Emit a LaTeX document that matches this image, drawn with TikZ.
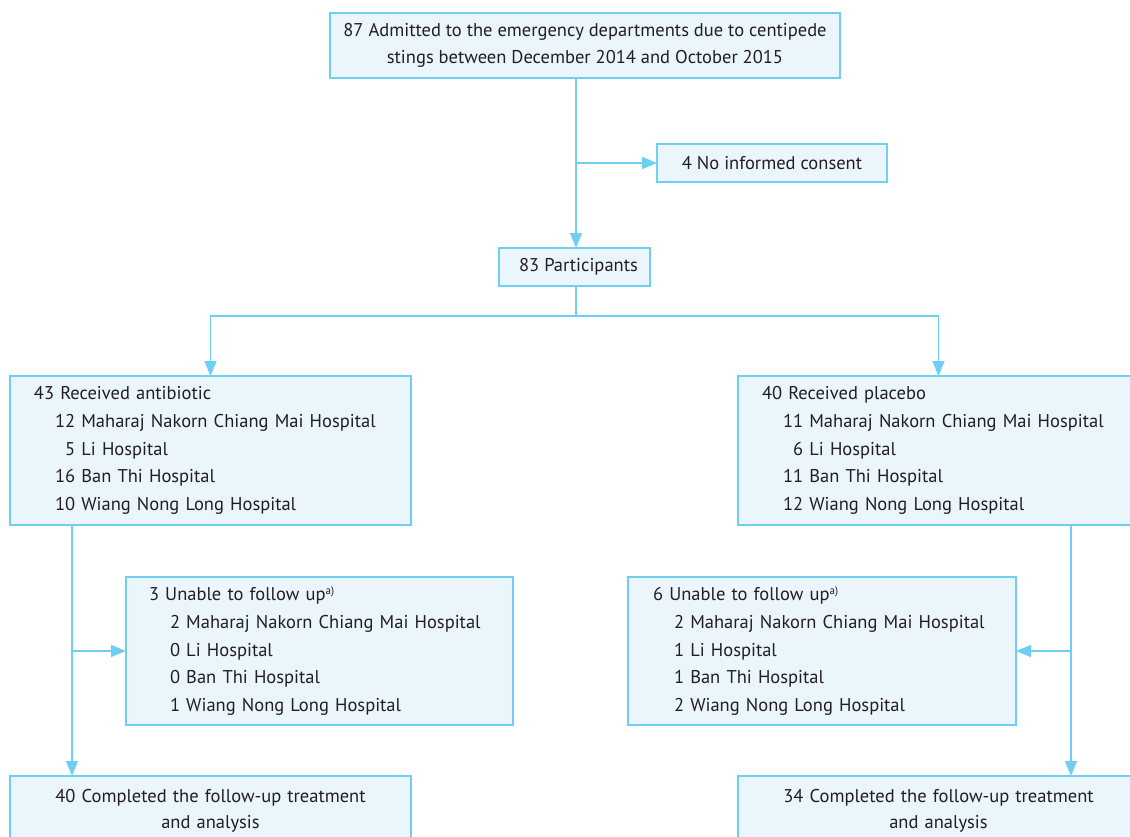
\documentclass[tikz,border=0pt]{standalone}
\usepackage{fontspec}
\setmainfont{PT Sans}
\usetikzlibrary{arrows.meta,calc}
\definecolor{lb}{HTML}{6ECFF3}
\definecolor{fb}{HTML}{EAF6FC}
\definecolor{tx}{HTML}{231F20}
\newcommand{\hsp}[2]{\hspace*{21pt}#1 #2}
\begin{document}
\begin{tikzpicture}[x=1pt,y=-1pt,
  box/.style={draw=lb, fill=fb, line width=1.5pt, text=tx,
    font=\fontsize{18.5}{27.7}\selectfont, inner ysep=0pt, outer sep=0pt},
  conn/.style={draw=lb, line width=1.5pt},
  arr/.style={conn, -{Triangle[width=12pt,length=15pt]}}]
\useasboundingbox (0,0) rectangle (1130,836);
\clip (0,0) rectangle (1130,836);
\fill[white] (0,0) rectangle (1130,836);

\node[box, anchor=north west, minimum width=510pt, minimum height=65pt, align=center, font=\fontsize{18.5}{27}\selectfont] (top) at (330,13)
  {87 Admitted to the emergency departments due to centipede\\stings between December 2014 and October 2015};
\node[box, anchor=north west, minimum width=230pt, minimum height=38pt, align=center] (noinf) at (657,144)
  {4 No informed consent};
\node[box, anchor=north west, minimum width=151pt, minimum height=38pt, align=center] (part) at (499,248)
  {\hspace*{8pt}83 Participants};

\node[box, anchor=north west, text width=353pt, inner xsep=24pt, minimum height=149pt, align=left] (ab) at (10,376)
  {43 Received antibiotic\\
   \hsp{12}{Maharaj Nakorn Chiang Mai Hospital}\\
   \hsp{\phantom{0}5}{Li Hospital}\\
   \hsp{16}{Ban Thi Hospital}\\
   \hsp{10}{Wiang Nong Long Hospital}};
\node[box, anchor=north west, text width=353pt, inner xsep=24pt, minimum height=149pt, align=left] (pl) at (738,376)
  {40 Received placebo\\
   \hsp{11}{Maharaj Nakorn Chiang Mai Hospital}\\
   \hsp{\phantom{0}6}{Li Hospital}\\
   \hsp{11}{Ban Thi Hospital}\\
   \hsp{12}{Wiang Nong Long Hospital}};

\node[box, anchor=north west, text width=341pt, inner xsep=23pt, minimum height=148pt, align=left] (un1) at (126,577)
  {3 Unable to follow up\textsuperscript{\fontsize{11}{11}\selectfont a)}\\
   \hsp{2}{Maharaj Nakorn Chiang Mai Hospital}\\
   \hsp{0}{Li Hospital}\\
   \hsp{0}{Ban Thi Hospital}\\
   \hsp{1}{Wiang Nong Long Hospital}};
\node[box, anchor=north west, text width=338pt, inner xsep=25pt, minimum height=148pt, align=left] (un2) at (628,577)
  {6 Unable to follow up\textsuperscript{\fontsize{11}{11}\selectfont a)}\\
   \hsp{2}{Maharaj Nakorn Chiang Mai Hospital}\\
   \hsp{1}{Li Hospital}\\
   \hsp{1}{Ban Thi Hospital}\\
   \hsp{2}{Wiang Nong Long Hospital}};

\node[box, anchor=north west, text width=381pt, inner xsep=10pt, minimum height=70pt, align=center, font=\fontsize{18.5}{26}\selectfont] (done1) at (10,776)
  {40 Completed the follow-up treatment\\and analysis};
\node[box, anchor=north west, text width=381pt, inner xsep=10pt, minimum height=70pt, align=center, font=\fontsize{18.5}{26}\selectfont] (done2) at (738,776)
  {34 Completed the follow-up treatment\\and analysis};

% connectors
\coordinate (b1) at (576,163);
\coordinate (split) at (576,316);
\draw[arr] (top.south -| b1) -- (b1 |- part.north);
\draw[arr] (b1) -- (noinf.west);
\draw[conn] (split |- part.south) -- (split);
\draw[arr] (split) -| (ab.north);
\draw[arr] (split) -| (pl.north);

\coordinate (la) at ([xshift=62pt]ab.south west);
\draw[arr] (la) -- (la |- done1.north);
\draw[arr] (la |- un1.west) -- (un1.west);

\coordinate (ra) at ([xshift=333pt]pl.south west);
\draw[arr] (ra) -- (ra |- done2.north);
\draw[arr] (ra |- un2.east) -- (un2.east);
\end{tikzpicture}
\end{document}
